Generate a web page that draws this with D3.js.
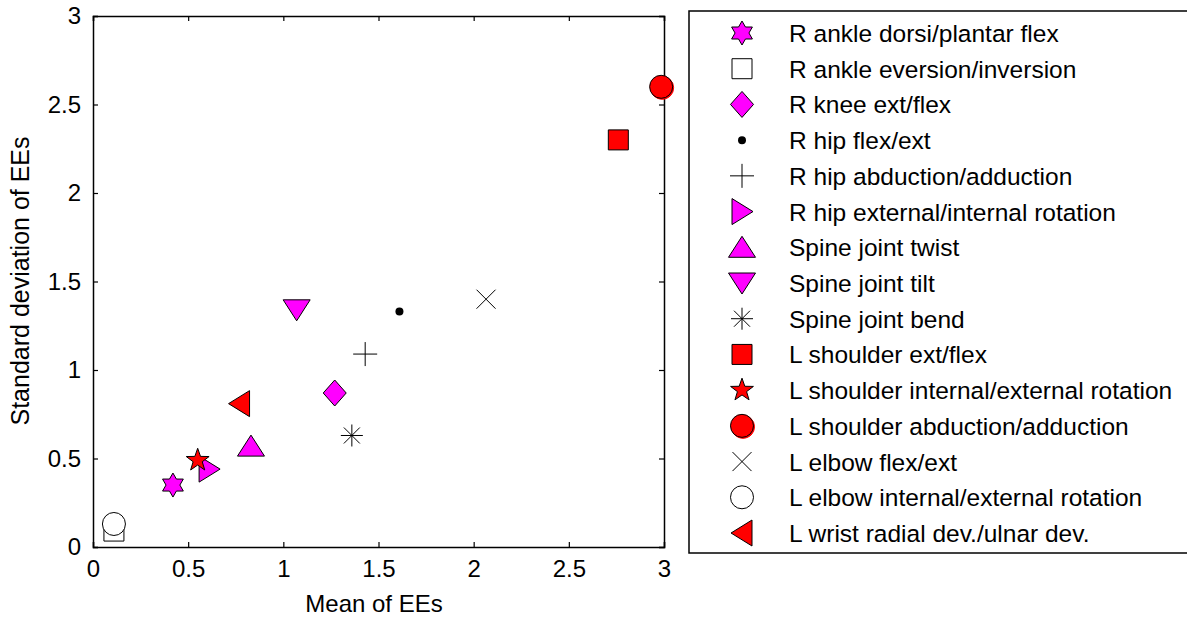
<!DOCTYPE html>
<html>
<head>
<meta charset="utf-8">
<script src="https://cdn.jsdelivr.net/npm/d3@7"></script>
<style>
  body { margin: 0; background: #fff; }
  text { font-family: "Liberation Sans", Arial, sans-serif; fill: #000; }
</style>
</head>
<body>
<div id="chart"></div>
<script>
// Data
const jointNames = [
  "R ankle dorsi/plantar flex",
  "R ankle eversion/inversion",
  "R knee ext/flex",
  "R hip flex/ext",
  "R hip abduction/adduction",
  "R hip external/internal rotation",
  "Spine joint twist",
  "Spine joint tilt",
  "Spine joint bend",
  "L shoulder ext/flex",
  "L shoulder internal/external rotation",
  "L shoulder abduction/adduction",
  "L elbow flex/ext",
  "L elbow internal/external rotation",
  "L wrist radial dev./ulnar dev."
];
const meanEE = [0.42, 0.11, 1.27, 1.61, 1.43, 0.61, 0.83, 1.07, 1.36, 2.76, 0.55, 2.985, 2.065, 0.11, 0.77];
const sdEE   = [0.35, 0.09, 0.87, 1.33, 1.09, 0.44, 0.57, 1.34, 0.63, 2.30, 0.49, 2.60, 1.40, 0.13, 0.81];
const xTicks = [0, 0.5, 1, 1.5, 2, 2.5, 3];
const yTicks = [0, 0.5, 1, 1.5, 2, 2.5, 3];

// marker style per series (kept apart from the values)
const markerKind = ["hexagram", "square", "diamond", "dot", "plus", "triRight", "triUp", "triDown",
  "asterisk", "square", "star", "circle", "cross", "circle", "triLeft"];
const markerFill = ["#ff00ff", "#fff", "#ff00ff", "#000", "none", "#ff00ff", "#ff00ff", "#ff00ff",
  "none", "#ff0000", "#ff0000", "#ff0000", "none", "#fff", "#ff0000"];

const margin = { top: 16, left: 93 };
const width = 664 - 93;
const height = 547 - 16;

const svg = d3.select("#chart").append("svg").attr("width", 1187).attr("height", 619);
const g = svg.append("g").attr("transform", `translate(${margin.left},${margin.top})`);

const xscale = d3.scaleLinear().domain([0, 3]).range([0, width]);
const yscale = d3.scaleLinear().domain([0, 3]).range([height, 0]);

function starPath(n, rOut, rIn) {
  const pts = [];
  for (let i = 0; i < 2 * n; i++) {
    const r = i % 2 === 0 ? rOut : rIn;
    const a = -Math.PI / 2 + i * Math.PI / n;
    pts.push([r * Math.cos(a), r * Math.sin(a)]);
  }
  return "M" + pts.map(p => p.join(",")).join("L") + "Z";
}

function markerPath(kind) {
  switch (kind) {
    case "hexagram": return starPath(6, 12, 12 / Math.sqrt(3));
    case "star": return starPath(5, 12, 4.8);
    case "square": return "M-10,-10H10V10H-10Z";
    case "diamond": return "M0,-13L11.5,0L0,13L-11.5,0Z";
    case "triUp": return "M0,-11L13.5,10L-13.5,10Z";
    case "triDown": return "M0,11L13.5,-10L-13.5,-10Z";
    case "triLeft": return "M-11,0L10,-13L10,13Z";
    case "triRight": return "M11,0L-10,-13L-10,13Z";
    case "circle": return d3.arc()({ innerRadius: 0, outerRadius: 11.5, startAngle: 0, endAngle: 2 * Math.PI });
    case "dot": return d3.arc()({ innerRadius: 0, outerRadius: 4, startAngle: 0, endAngle: 2 * Math.PI });
    case "plus": return "M-12,0H12M0,-12V12";
    case "cross": return "M-9.5,-9.5L9.5,9.5M-9.5,9.5L9.5,-9.5";
    case "asterisk": return "M-11,0H11M0,-11V11M-8,-8L8,8M-8,8L8,-8";
  }
}

function drawMarker(sel, i) {
  const kind = markerKind[i];
  if (kind === "circle" && markerFill[i] === "#ff0000") {
    // slight red halo seen in the picture
    sel.append("path").attr("d", markerPath(kind)).attr("transform", "translate(1,1)")
      .attr("fill", "#ff0000").attr("stroke", "#ff0000");
  }
  sel.append("path")
    .attr("d", markerPath(kind))
    .attr("fill", markerFill[i])
    .attr("stroke", kind === "dot" ? "none" : "#000")
    .attr("stroke-width", 1);
}

// Axes (box with inward ticks)
const axisB = d3.axisBottom(xscale).tickValues(xTicks).tickSize(-5).tickPadding(13).tickFormat(d3.format("~g"));
const axisT = d3.axisTop(xscale).tickValues(xTicks).tickSize(-5).tickFormat("");
const axisL = d3.axisLeft(yscale).tickValues(yTicks).tickSize(-5).tickPadding(12).tickFormat(d3.format("~g"));
const axisR = d3.axisRight(yscale).tickValues(yTicks).tickSize(-5).tickFormat("");

const gx = g.append("g").attr("transform", `translate(0,${height})`).call(axisB);
g.append("g").call(axisT);
const gy = g.append("g").call(axisL);
g.append("g").attr("transform", `translate(${width},0)`).call(axisR);

g.selectAll(".domain").attr("stroke", "#000").attr("stroke-width", 1.5);
g.selectAll(".tick line").attr("stroke", "#000").attr("stroke-width", 1.2);
gx.selectAll("text").attr("font-size", 24).attr("font-family", "Liberation Sans, Arial");
gy.selectAll("text").attr("font-size", 24).attr("font-family", "Liberation Sans, Arial");

// Axis titles
svg.append("text").attr("x", 374).attr("y", 612).attr("text-anchor", "middle")
  .attr("font-size", 24).text("Mean of EEs");
svg.append("text").attr("transform", "translate(29,281) rotate(-90)").attr("text-anchor", "middle")
  .attr("font-size", 25).text("Standard deviation of EEs");

// Points
jointNames.forEach((name, i) => {
  const p = g.append("g").attr("transform", `translate(${xscale(meanEE[i])},${yscale(sdEE[i])})`);
  drawMarker(p, i);
});

// Legend
const legend = svg.append("g");
legend.append("rect").attr("x", 689).attr("y", 11).attr("width", 520).attr("height", 542)
  .attr("fill", "#fff").attr("stroke", "#000").attr("stroke-width", 1.5);
const rowY = d3.scaleLinear().domain([0, jointNames.length - 1]).range([33, 533]);
jointNames.forEach((name, i) => {
  const row = legend.append("g").attr("transform", `translate(0,${rowY(i)})`);
  const m = row.append("g").attr("transform", "translate(742,0)");
  drawMarker(m, i);
  row.append("text").attr("x", 789).attr("y", 9).attr("font-size", 24.5).text(name);
});
</script>
</body>
</html>
